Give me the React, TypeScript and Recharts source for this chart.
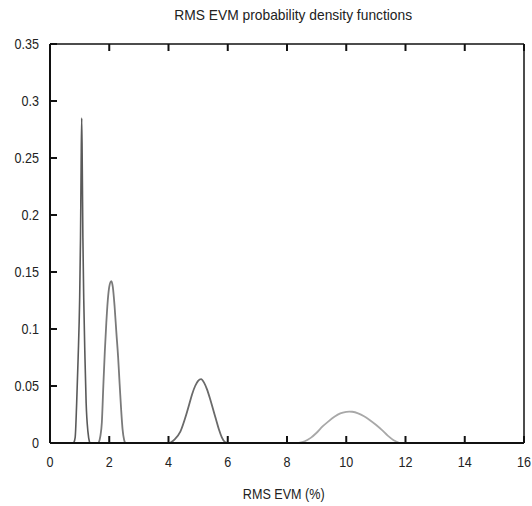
import React from 'react';
import { LineChart, Line, XAxis, YAxis } from 'recharts';

const xTicks = [0, 2, 4, 6, 8, 10, 12, 14, 16];
const yTicks = [0, 0.05, 0.1, 0.15, 0.2, 0.25, 0.3, 0.35];

const curve1 = [
  { x: 0.8, y: 0 }, { x: 0.85, y: 0.005 }, { x: 0.9, y: 0.035 }, { x: 0.95, y: 0.075 },
  { x: 1.0, y: 0.125 }, { x: 1.03, y: 0.18 }, { x: 1.05, y: 0.24 }, { x: 1.07, y: 0.285 },
  { x: 1.09, y: 0.24 }, { x: 1.11, y: 0.18 }, { x: 1.14, y: 0.125 }, { x: 1.18, y: 0.075 },
  { x: 1.22, y: 0.035 }, { x: 1.28, y: 0.01 }, { x: 1.34, y: 0 },
];

const curve2 = [
  { x: 1.64, y: 0 }, { x: 1.7, y: 0.006 }, { x: 1.75, y: 0.018 }, { x: 1.8, y: 0.05 },
  { x: 1.85, y: 0.08 }, { x: 1.9, y: 0.105 }, { x: 1.95, y: 0.125 }, { x: 2.0, y: 0.137 },
  { x: 2.07, y: 0.142 }, { x: 2.12, y: 0.137 }, { x: 2.18, y: 0.12 }, { x: 2.24, y: 0.097 },
  { x: 2.3, y: 0.075 }, { x: 2.35, y: 0.052 }, { x: 2.4, y: 0.03 }, { x: 2.45, y: 0.012 },
  { x: 2.5, y: 0.003 }, { x: 2.54, y: 0 },
];

const curve3 = [
  { x: 4.05, y: 0 }, { x: 4.2, y: 0.003 }, { x: 4.4, y: 0.01 }, { x: 4.6, y: 0.025 },
  { x: 4.7, y: 0.034 }, { x: 4.8, y: 0.043 }, { x: 4.9, y: 0.05 }, { x: 5.0, y: 0.0545 },
  { x: 5.1, y: 0.056 }, { x: 5.2, y: 0.053 }, { x: 5.3, y: 0.047 }, { x: 5.4, y: 0.039 },
  { x: 5.5, y: 0.03 }, { x: 5.6, y: 0.021 }, { x: 5.7, y: 0.012 }, { x: 5.8, y: 0.005 },
  { x: 5.9, y: 0.001 }, { x: 6.0, y: 0 },
];

const curve4 = [
  { x: 8.4, y: 0 }, { x: 8.6, y: 0.0015 }, { x: 8.8, y: 0.0045 }, { x: 9.0, y: 0.009 },
  { x: 9.2, y: 0.0145 }, { x: 9.4, y: 0.019 }, { x: 9.6, y: 0.023 }, { x: 9.8, y: 0.026 },
  { x: 10.0, y: 0.0273 }, { x: 10.1, y: 0.0276 }, { x: 10.2, y: 0.0274 }, { x: 10.4, y: 0.026 },
  { x: 10.6, y: 0.0235 }, { x: 10.8, y: 0.02 }, { x: 11.0, y: 0.016 }, { x: 11.2, y: 0.0115 },
  { x: 11.4, y: 0.0065 }, { x: 11.6, y: 0.0025 }, { x: 11.8, y: 0 },
];

const FONT = '"Liberation Sans", Arial, sans-serif';
const SX = 0.84;
const TICK = 7;
const AXIS = '#111';

const BottomTick = (props: any) => {
  const { x, y, payload } = props;
  return (
    <g>
      <path d={`M${x},${y}V${y - TICK}`} stroke={AXIS} strokeWidth={2} fill="none" />
      <text
        transform={`translate(${x},${y + 13}) scale(${SX},1)`}
        textAnchor="middle"
        dy="0.71em"
        fontFamily={FONT}
        fontSize={15}
        fill="#222"
      >
        {String(payload.value)}
      </text>
    </g>
  );
};

const TopTick = (props: any) => {
  const { x, y } = props;
  return <path d={`M${x},${y}V${y + TICK}`} stroke={AXIS} strokeWidth={2} fill="none" />;
};

const LeftTick = (props: any) => {
  const { x, y, payload } = props;
  return (
    <g>
      <path d={`M${x},${y}H${x + TICK}`} stroke={AXIS} strokeWidth={2} fill="none" />
      <text
        transform={`translate(${x - 11},${y}) scale(${SX},1)`}
        textAnchor="end"
        dy="0.355em"
        fontFamily={FONT}
        fontSize={15}
        fill="#222"
      >
        {String(payload.value)}
      </text>
    </g>
  );
};

const RightTick = (props: any) => {
  const { x, y } = props;
  return <path d={`M${x},${y}H${x - TICK}`} stroke={AXIS} strokeWidth={2} fill="none" />;
};

export default function App() {
  const labelStyle = (sx: number): React.CSSProperties => ({
    display: 'inline-block',
    transform: `scaleX(${sx})`,
    fontFamily: FONT,
    fontSize: 15,
    color: '#222',
    whiteSpace: 'nowrap',
  });
  return (
    <div style={{ position: 'absolute', left: 0, top: 0, width: 532, height: 506, background: '#fff' }}>
      <div style={{ position: 'absolute', left: 0, width: 586, top: 6, textAlign: 'center' }}>
        <span style={labelStyle(0.92)}>RMS EVM probability density functions</span>
      </div>
      <div style={{ position: 'absolute', left: 0, width: 568, top: 485, textAlign: 'center' }}>
        <span style={labelStyle(SX)}>RMS EVM (%)</span>
      </div>
      <LineChart width={532} height={506} data={curve1} margin={{ top: 43, right: 7, bottom: 0, left: 0 }}>
        <XAxis
          xAxisId="b"
          dataKey="x"
          type="number"
          domain={[0, 16]}
          ticks={xTicks}
          height={63}
          tickSize={0}
          tickMargin={0}
          interval={0}
          tick={<BottomTick />}
          tickLine={false}
          axisLine={{ stroke: AXIS, strokeWidth: 2 }}
        />
        <XAxis
          xAxisId="t"
          dataKey="x"
          type="number"
          orientation="top"
          domain={[0, 16]}
          ticks={xTicks}
          height={1}
          tickSize={0}
          tickMargin={0}
          interval={0}
          tick={<TopTick />}
          tickLine={false}
          axisLine={{ stroke: AXIS, strokeWidth: 1.5 }}
        />
        <YAxis
          yAxisId="l"
          type="number"
          domain={[0, 0.35]}
          ticks={yTicks}
          width={50}
          tickSize={0}
          tickMargin={0}
          interval={0}
          tick={<LeftTick />}
          tickLine={false}
          axisLine={{ stroke: AXIS, strokeWidth: 2 }}
        />
        <YAxis
          yAxisId="r"
          type="number"
          orientation="right"
          domain={[0, 0.35]}
          ticks={yTicks}
          width={1}
          tickSize={0}
          tickMargin={0}
          interval={0}
          tick={<RightTick />}
          tickLine={false}
          axisLine={{ stroke: AXIS, strokeWidth: 1.5 }}
        />
        <Line xAxisId="b" yAxisId="l" data={curve1} dataKey="y" type="monotone" stroke="#5a5a5a" strokeWidth={1.6} dot={false} isAnimationActive={false} />
        <Line xAxisId="b" yAxisId="l" data={curve2} dataKey="y" type="monotone" stroke="#7a7a7a" strokeWidth={1.8} dot={false} isAnimationActive={false} />
        <Line xAxisId="b" yAxisId="l" data={curve3} dataKey="y" type="monotone" stroke="#6a6a6a" strokeWidth={1.8} dot={false} isAnimationActive={false} />
        <Line xAxisId="b" yAxisId="l" data={curve4} dataKey="y" type="monotone" stroke="#a8a8a8" strokeWidth={1.8} dot={false} isAnimationActive={false} />
      </LineChart>
    </div>
  );
}
